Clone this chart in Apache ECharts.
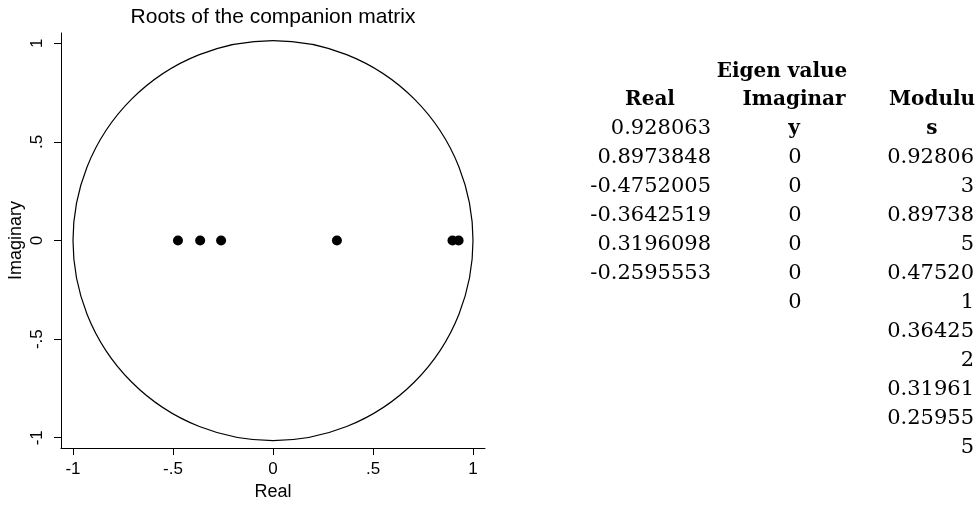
<!DOCTYPE html>
<html>
<head>
<meta charset="utf-8">
<script src="https://cdn.jsdelivr.net/npm/echarts@6/dist/echarts.min.js"></script>
<style>
html,body{margin:0;padding:0;background:#fff;}
#chart{width:979px;height:506px;}
</style>
</head>
<body>
<div id="chart"></div>
<script>
// ---- data ----
const realParts = [0.928063, 0.8973848, -0.4752005, -0.3642519, 0.3196098, -0.2595553];
const imagParts = [0, 0, 0, 0, 0, 0];
const moduli = ['0.928063', '0.897385', '0.475201', '0.364252', '0.31961', '0.259555'];
const tickValues = [-1, -0.5, 0, 0.5, 1];
const unitCircle = [[0, 0, 1]]; // centre x, centre y, radius
const chartTitle = 'Roots of the companion matrix';
const tableTitle = 'Eigen value';
const headReal = ['Real'];
const headImag = ['Imaginar', 'y'];
const headMod = ['Modulu', 's'];

// ---- helpers ----
function fmtTick(v) {
  if (v === 0) return '0';
  return String(v).replace('0.', '.');
}
function wrap(s, n) {
  const out = [];
  for (let i = 0; i < s.length; i += n) out.push(s.slice(i, i + n));
  return out;
}

const chart = echarts.init(document.getElementById('chart'), null, {renderer: 'canvas'});

// table text
const serif = '"DejaVu Serif", serif';
const y0 = 100, dy = 29;
const graphics = [];
function txt(t, x, y, align, bold) {
  graphics.push({
    type: 'text', x: x, y: y, silent: true,
    style: {
      text: t, fill: '#000',
      font: (bold ? 'bold 20px ' : '21px ') + serif,
      textAlign: align, textVerticalAlign: 'middle'
    }
  });
}
txt(tableTitle, 782, 72, 'center', true);
headReal.forEach((t, i) => txt(t, 650, y0 + i * dy, 'center', true));
headImag.forEach((t, i) => txt(t, 794, y0 + i * dy, 'center', true));
headMod.forEach((t, i) => txt(t, 932, y0 + i * dy, 'center', true));
realParts.forEach((v, i) => txt(String(v), 711, y0 + (i + 1) * dy, 'right', false));
imagParts.forEach((v, i) => txt(String(v), 795, y0 + (i + 2) * dy, 'center', false));
let line = 2;
moduli.forEach(m => {
  wrap(m, 7).forEach(part => {
    txt(part, 974, y0 + line * dy, 'right', false);
    line++;
  });
});

const sans = '"Liberation Sans", Arial, sans-serif';
const axisCommon = {
  type: 'value',
  splitLine: {show: false},
  axisLine: {show: true, onZero: false, lineStyle: {color: '#000', width: 1}},
  axisTick: {show: true, length: 7, customValues: tickValues, lineStyle: {color: '#000', width: 1}},
  nameTextStyle: {color: '#000', fontFamily: sans, fontSize: 18},
  nameLocation: 'middle'
};

chart.setOption({
  animation: false,
  backgroundColor: '#fff',
  title: {
    text: chartTitle,
    left: 273, top: 7, textAlign: 'center', padding: 0,
    textStyle: {color: '#000', fontFamily: sans, fontSize: 21, fontWeight: 'normal'}
  },
  grid: {left: 61, right: 494, top: 33, bottom: 52, containLabel: false},
  xAxis: Object.assign({}, axisCommon, {
    min: -1.06, max: 1.06,
    name: 'Real', nameGap: 29,
    axisLabel: {customValues: tickValues, formatter: fmtTick, color: '#000', fontFamily: sans, fontSize: 17, margin: 13}
  }),
  yAxis: Object.assign({}, axisCommon, {
    min: -1.0525, max: 1.0525,
    name: 'Imaginary', nameGap: 36,
    axisLabel: {customValues: tickValues, formatter: fmtTick, color: '#000', fontFamily: sans, fontSize: 17, margin: 15, rotate: 90}
  }),
  series: [
    {
      type: 'custom',
      data: unitCircle,
      silent: true,
      renderItem: function (params, api) {
        const c = api.coord([api.value(0), api.value(1)]);
        const r = api.size([api.value(2), 0])[0];
        return {type: 'circle', shape: {cx: c[0], cy: c[1], r: r},
                style: {fill: 'none', stroke: '#000', lineWidth: 1.2}};
      }
    },
    {
      type: 'scatter',
      data: realParts.map((x, i) => [x, imagParts[i]]),
      symbol: 'circle', symbolSize: 10,
      itemStyle: {color: '#000', opacity: 1},
      silent: true
    }
  ],
  graphic: graphics
});
</script>
</body>
</html>
